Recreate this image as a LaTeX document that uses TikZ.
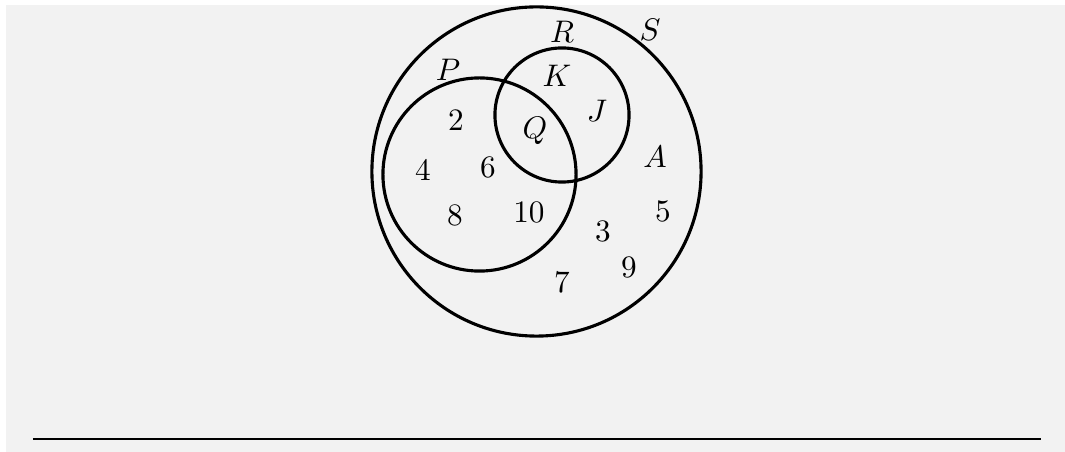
\documentclass[tikz,border=0pt]{standalone}
\definecolor{bg}{HTML}{F2F2F2}
\begin{document}
\begin{tikzpicture}[x=0.011268cm,y=-0.011268cm,
  setc/.style={draw=black,line width=1pt,circle,inner sep=0pt},
  lbl/.style={inner sep=0pt,anchor=center}]
\useasboundingbox (0,0) rectangle (1065,452);
\fill[white] (0,0) rectangle (1065,452);
\fill[bg] (6,5) rectangle (1065,452);
\node[setc,minimum size=3.707cm] (S) at (536.5,171.5) {};
\node[setc,minimum size=2.175cm] (P) at (479.5,174.5) {};
\node[setc,minimum size=1.510cm] (R) at (562,115) {};
\node[lbl] (lS) at (650,30) {$S$};
\node[lbl] (lR) at (562,32) {$R$};
\node[lbl] (lP) at (448,70) {$P$};
\node[lbl] (lK) at (557,76) {$K$};
\node[lbl] (lJ) at (597,111) {$J$};
\node[lbl] (lQ) at (535,131) {$Q$};
\node[lbl] (lA) at (655,157) {$A$};
\node[lbl] (n2) at (456,120) {2};
\node[lbl] (n4) at (423,170) {4};
\node[lbl] (n6) at (488,167) {6};
\node[lbl] (n8) at (455,215) {8};
\node[lbl] (n10) at (529,212) {10};
\node[lbl] (n5) at (663,211) {5};
\node[lbl] (n3) at (603,231) {3};
\node[lbl] (n9) at (629,267) {9};
\node[lbl] (n7) at (562,282) {7};
\coordinate (h1) at (33,439);
\coordinate (h2) at (1041,439);
\draw[line width=0.6pt] (h1) -- (h2);
\end{tikzpicture}
\end{document}
